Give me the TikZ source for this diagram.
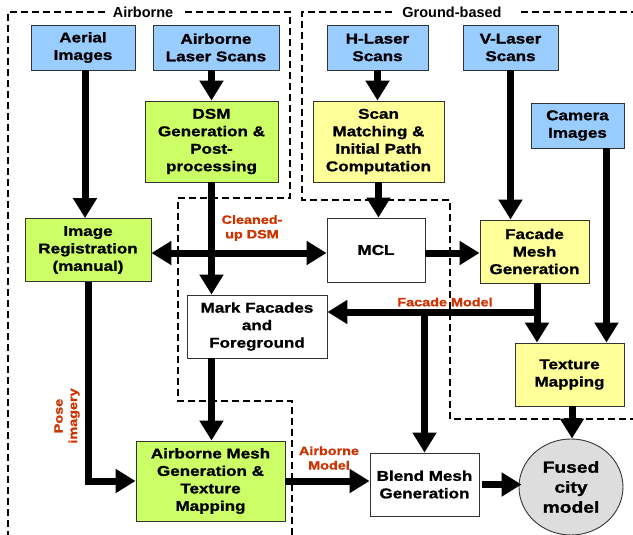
\documentclass[tikz,border=0pt]{standalone}
\usepackage{fontspec}
\setmainfont{Liberation Sans}[FakeStretch=1.2, BoldFeatures={FakeBold=1.2}]
\newfontfamily\titlefont{Liberation Sans}
\usetikzlibrary{arrows.meta,calc,shapes.geometric}
\definecolor{skyb}{HTML}{99CCFF}
\definecolor{limeg}{HTML}{CCFF66}
\definecolor{paley}{HTML}{FFFF99}
\definecolor{fusedg}{HTML}{DDDDDD}
\definecolor{boxline}{HTML}{333333}
\definecolor{labelred}{HTML}{CC3300}
\tikzset{
  box/.style={draw=boxline, line width=0.9pt, inner sep=0pt, align=center,
    font=\fontsize{14.2}{17.5}\selectfont\bfseries},
  bluebox/.style={box, fill=skyb},
  greenbox/.style={box, fill=limeg},
  yellowbox/.style={box, fill=paley},
  whitebox/.style={box, fill=white},
  arr/.style={line width=7pt, -{Triangle[width=23pt,length=20pt]}},
  darr/.style={line width=7pt, {Triangle[width=23pt,length=20pt]}-{Triangle[width=23pt,length=20pt]}},
  region/.style={draw=black, dash pattern=on 7pt off 4pt, line width=1.6pt},
  lbl/.style={text=labelred, font=\fontsize{12}{14.5}\selectfont\bfseries, align=center, inner sep=0pt},
  ttl/.style={font=\titlefont\fontsize{14.5}{16}\selectfont\bfseries, inner sep=0pt},
}
\begin{document}
\begin{tikzpicture}[x=1pt,y=-1pt]
\useasboundingbox (0,0) rectangle (633,535);
% regions
\draw[region] (105,12) -- (8,12) -- (8,535);
\draw[region] (185,12) -- (290,12) -- (290,198) -- (178,198) -- (178,401) -- (292,401) -- (292,535);
\node[ttl] (tair) at (143,12) {Airborne};
\draw[region] (392,12) -- (302,12) -- (302,200) -- (450,200) -- (450,419) -- (633,419);
\draw[region] (521,12) -- (633,12);
\node[ttl] (tgnd) at (452,12) {Ground-based};
% boxes
\node[bluebox, minimum width=104pt, minimum height=45pt] (aerial) at (83,47.5) {Aerial\\Images};
\node[bluebox, minimum width=126pt, minimum height=45pt] (als) at (216,47.5) {Airborne\\Laser Scans};
\node[greenbox, minimum width=133pt, minimum height=81pt] (dsm) at (211.5,141.5) {DSM\\Generation \&\\Post-\\processing};
\node[greenbox, minimum width=126pt, minimum height=63pt] (imgreg) at (88,250) {Image\\Registration\\(manual)};
\node[bluebox, minimum width=101pt, minimum height=45pt] (hlaser) at (377.5,47.5) {H-Laser\\Scans};
\node[bluebox, minimum width=95pt, minimum height=45pt] (vlaser) at (510.5,47.5) {V-Laser\\Scans};
\node[yellowbox, minimum width=131pt, minimum height=81pt] (scanm) at (378.5,141.5) {Scan\\Matching \&\\Initial Path\\Computation};
\node[bluebox, minimum width=93pt, minimum height=45pt] (camera) at (577.5,125.5) {Camera\\Images};
\node[whitebox, minimum width=98pt, minimum height=64pt] (mcl) at (376,250) {MCL};
\node[yellowbox, minimum width=109pt, minimum height=63pt] (facade) at (534.5,251.5) {Facade\\Mesh\\Generation};
\node[whitebox, minimum width=140pt, minimum height=63pt] (mark) at (257,326.5) {Mark Facades\\and\\Foreground};
\node[yellowbox, minimum width=109pt, minimum height=63pt] (texmap) at (569.5,374.5) {Texture\\Mapping};
\node[greenbox, minimum width=149pt, minimum height=80pt] (abmesh) at (210.5,481) {Airborne Mesh\\Generation \&\\Texture\\Mapping};
\node[whitebox, minimum width=109pt, minimum height=63pt] (blend) at (424.5,484.5) {Blend Mesh\\Generation};
\node[draw=boxline, line width=0.9pt, fill=fusedg, ellipse, minimum width=104pt, minimum height=96pt, inner sep=0pt, align=center,
  font=\fontsize{16}{20}\selectfont\bfseries] (fused) at (571,487) {Fused\\city\\model};
% connectors
\draw[arr] ([xshift=2pt]aerial.south) -- ([xshift=2pt]aerial.south |- imgreg.north);
\draw[arr] (dsm.north |- als.south) -- (dsm.north);
\draw[arr] (dsm.south) -- (dsm.south |- mark.north);
\draw[darr] ([yshift=-3pt]imgreg.east) -- ([yshift=-3pt]imgreg.east -| mcl.west);
\draw[arr] (hlaser.south) -- (hlaser.south |- scanm.north);
\draw[arr] (scanm.south) -- (scanm.south |- mcl.north);
\draw[arr] ([yshift=-3pt]mcl.east) -- ([yshift=-3pt]mcl.east -| facade.west);
\draw[arr] (vlaser.south) -- (vlaser.south |- facade.north);
\coordinate (camx) at ([xshift=-18pt]camera.south east);
\draw[arr] (camx) -- (camx |- texmap.north);
\coordinate (fm) at ([yshift=14.5pt]mark.east);
\draw[arr] ([xshift=2.5pt]facade.south) -- ([xshift=2.5pt]facade.south |- texmap.north);
\draw[arr] ([xshift=2.5pt]facade.south |- fm) -- (fm);
\draw[arr] (blend.north |- fm) -- (blend.north);
\draw[arr] (dsm.south |- mark.south) -- (dsm.south |- abmesh.north);
\draw[arr] (imgreg.south) |- (abmesh.west);
\draw[arr] (abmesh.east) -- (abmesh.east -| blend.west);
\draw[arr] ([xshift=3pt]blend.east) -- ([xshift=3pt]blend.east -| fused.west);
\draw[arr] ([xshift=2.5pt]texmap.south) -- ([xshift=2.5pt]texmap.south |- fused.north);
% labels
\node[lbl] (lcl) at (252,228) {Cleaned-\\up DSM};
\node[lbl] (lfm) at (445,302) {Facade Model};
\node[lbl] (lam) at (329,458) {Airborne\\Model};
\node[lbl, rotate=90] (lpi) at (67,416) {Pose\\imagery};
\end{tikzpicture}
\end{document}
